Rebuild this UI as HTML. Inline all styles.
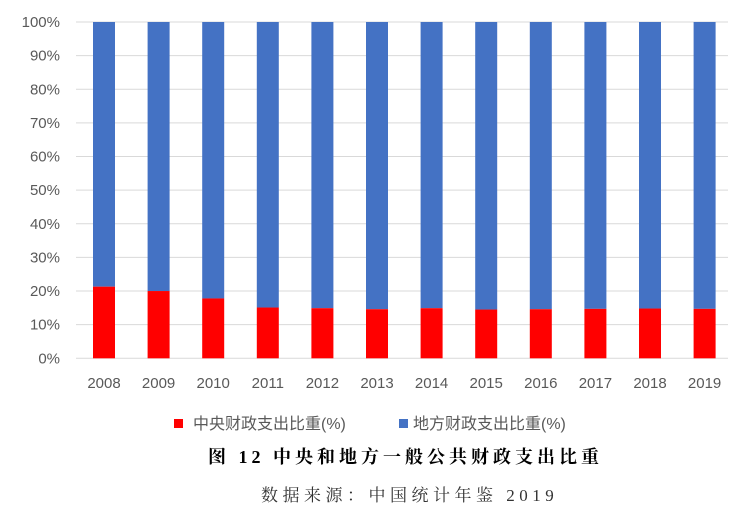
<!DOCTYPE html>
<html><head><meta charset="utf-8"><style>
body{margin:0;background:#fff;width:751px;height:523px;overflow:hidden;font-family:"Liberation Sans","Noto Sans CJK SC",sans-serif}
</style></head><body>
<svg width="751" height="523" id="chart"></svg>
<script>
const years=["2008","2009","2010","2011","2012","2013","2014","2015","2016","2017","2018","2019"];
const central=[21.3,20.0,17.8,15.1,14.9,14.6,14.9,14.5,14.6,14.7,14.8,14.7];
const local=[78.7,80.0,82.2,84.9,85.1,85.4,85.1,85.5,85.4,85.3,85.2,85.3];
const yTicks=[0,10,20,30,40,50,60,70,80,90,100];
const NS="http://www.w3.org/2000/svg";
const svg=document.getElementById('chart');
const y0=358.3,yTop=22;
const yS=v=>y0-(y0-yTop)*v/100;
const xC=i=>104+i*54.6;
function mk(t,a){const e=document.createElementNS(NS,t);for(const k in a)e.setAttribute(k,a[k]);svg.appendChild(e);return e;}
yTicks.forEach(v=>{
 const g=mk('line',{x1:76,x2:728,y1:yS(v),y2:yS(v),stroke:'#d9d9d9','stroke-width':1});
 
 
 const t=mk('text',{x:60,y:yS(v)+5,'text-anchor':'end','font-size':15,fill:'#595959'});
 t.textContent=v+'%';
 
 
});
years.forEach((yr,i)=>{
 const x=xC(i)-11;
 const b=mk('rect',{x:x,y:yS(central[i]+local[i]),width:22,height:yS(central[i])-yS(central[i]+local[i]),fill:'#4472c4'});
 
 
 const r=mk('rect',{x:x,y:yS(central[i]),width:22,height:y0-yS(central[i]),fill:'#ff0000'});
 
 
 const t=mk('text',{x:xC(i),y:388,'text-anchor':'middle','font-size':15,fill:'#595959'});
 t.textContent=yr;
 
 
});
const l1=mk('rect',{x:174,y:419,width:9,height:9,fill:'#ff0000'});


const lt1=mk('text',{x:193,y:429,'font-size':16,fill:'#595959'});
lt1.textContent='中央财政支出比重(%)';


const l2=mk('rect',{x:399,y:419,width:9,height:9,fill:'#4472c4'});


const lt2=mk('text',{x:413,y:429,'font-size':16,fill:'#595959'});
lt2.textContent='地方财政支出比重(%)';


const ti=mk('text',{x:208,y:463,'font-size':18,'font-weight':'bold',fill:'#000','letter-spacing':'4px','font-family':'"Liberation Serif","Noto Serif CJK SC",serif','xml:space':'preserve'});
ti.textContent='图 12  中央和地方一般公共财政支出比重';


const so=mk('text',{x:261,y:501,'font-size':17,fill:'#333','letter-spacing':'4.5px','font-family':'"Liberation Serif","Noto Serif CJK SC",serif'});
so.textContent='数据来源：中国统计年鉴 2019';


</script>
</body></html>
